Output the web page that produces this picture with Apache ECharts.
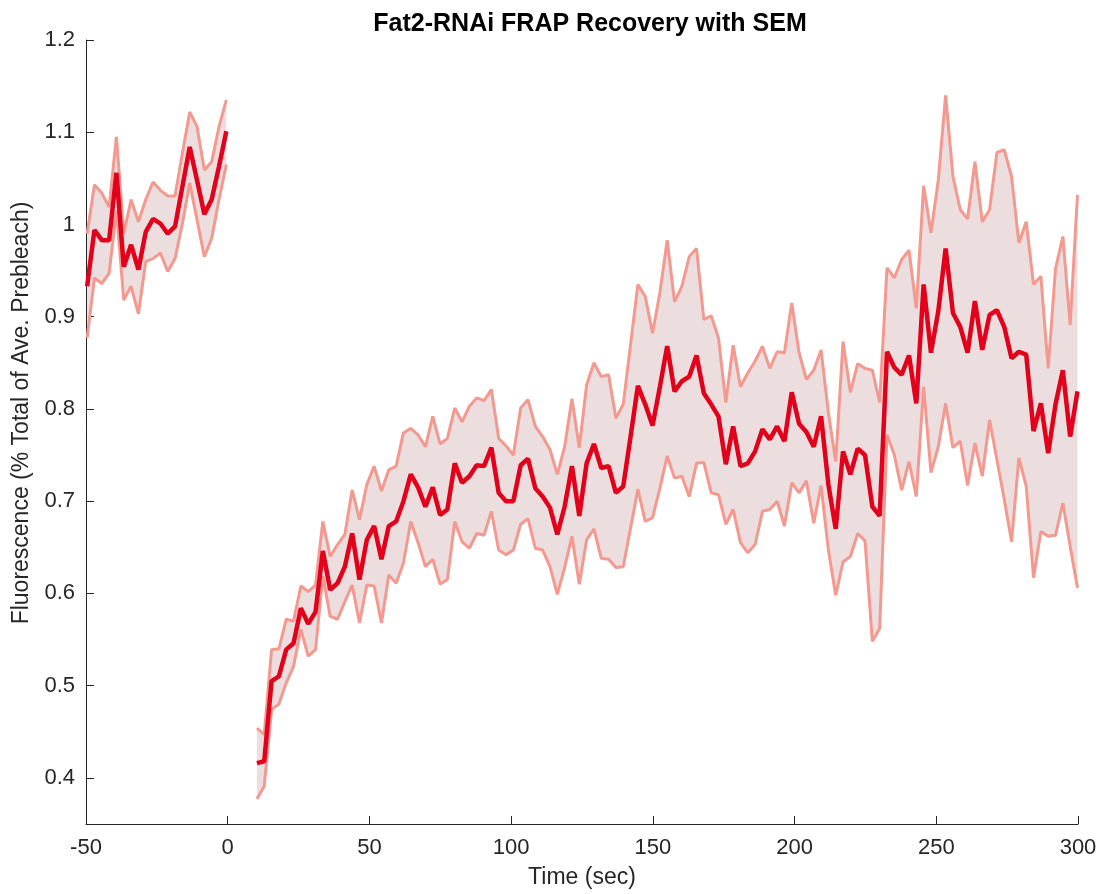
<!DOCTYPE html>
<html>
<head>
<meta charset="utf-8">
<title>Fat2-RNAi FRAP Recovery with SEM</title>
<script src="https://cdn.jsdelivr.net/npm/echarts@6/dist/echarts.min.js"></script>
<style>
html, body { margin: 0; padding: 0; background: #fff; }
#chart { width: 1113px; height: 894px; }
</style>
</head>
<body>
<div id="chart"></div>
<script>
// sampling: one frame every ~2.585 s, bleach at t = 0
var STEP = 2.585;
var PRE_START = -49.6;
var POST_START = 10.3;

// prebleach (mean, mean+SEM, mean-SEM)
var preMean = [0.933, 0.994, 0.983, 0.983, 1.056, 0.954, 0.978, 0.951, 0.992, 1.006,
  1.001, 0.990, 0.998, 1.041, 1.084, 1.048, 1.011, 1.027, 1.063, 1.101];
var preUpper = [0.990, 1.043, 1.034, 1.019, 1.095, 0.990, 1.027, 1.003, 1.027, 1.046,
  1.037, 1.031, 1.031, 1.077, 1.122, 1.106, 1.059, 1.068, 1.106, 1.135];
var preLower = [0.877, 0.942, 0.936, 0.947, 1.015, 0.918, 0.933, 0.903, 0.960, 0.963,
  0.969, 0.949, 0.963, 1.001, 1.045, 1.005, 0.965, 0.985, 1.027, 1.065];

// recovery after bleach
var postMean = [0.416, 0.418, 0.505, 0.510, 0.539, 0.546, 0.584, 0.567, 0.580, 0.646,
  0.604, 0.611, 0.629, 0.665, 0.615, 0.658, 0.673, 0.637, 0.673, 0.678,
  0.700, 0.729, 0.715, 0.694, 0.715, 0.685, 0.691, 0.741, 0.720, 0.727,
  0.739, 0.738, 0.758, 0.709, 0.700, 0.700, 0.739, 0.746, 0.714, 0.705,
  0.693, 0.664, 0.694, 0.738, 0.684, 0.741, 0.762, 0.736, 0.738, 0.709,
  0.716, 0.770, 0.825, 0.805, 0.782, 0.824, 0.868, 0.819, 0.830, 0.835,
  0.858, 0.817, 0.805, 0.792, 0.740, 0.781, 0.738, 0.741, 0.754, 0.778,
  0.767, 0.781, 0.765, 0.818, 0.784, 0.775, 0.759, 0.792, 0.718, 0.670,
  0.754, 0.729, 0.757, 0.750, 0.694, 0.684, 0.862, 0.845, 0.837, 0.858,
  0.806, 0.935, 0.861, 0.906, 0.974, 0.904, 0.889, 0.861, 0.917, 0.864,
  0.902, 0.907, 0.889, 0.855, 0.862, 0.859, 0.776, 0.806, 0.752, 0.805,
  0.842, 0.770, 0.819];
var postUpper = [0.454, 0.447, 0.539, 0.540, 0.572, 0.570, 0.608, 0.602, 0.609, 0.678,
  0.640, 0.653, 0.664, 0.712, 0.680, 0.718, 0.738, 0.711, 0.734, 0.738,
  0.774, 0.779, 0.772, 0.759, 0.792, 0.762, 0.768, 0.801, 0.786, 0.803,
  0.812, 0.809, 0.821, 0.768, 0.760, 0.750, 0.801, 0.810, 0.781, 0.770,
  0.756, 0.729, 0.759, 0.811, 0.758, 0.826, 0.850, 0.835, 0.837, 0.790,
  0.805, 0.870, 0.935, 0.922, 0.882, 0.926, 0.983, 0.916, 0.933, 0.965,
  0.974, 0.897, 0.901, 0.877, 0.807, 0.869, 0.824, 0.839, 0.852, 0.868,
  0.844, 0.862, 0.861, 0.915, 0.861, 0.832, 0.842, 0.864, 0.796, 0.743,
  0.873, 0.818, 0.849, 0.844, 0.842, 0.807, 0.953, 0.942, 0.962, 0.972,
  0.909, 1.042, 0.991, 1.048, 1.140, 1.052, 1.016, 1.006, 1.068, 1.003,
  1.016, 1.078, 1.081, 1.052, 0.980, 1.003, 0.935, 0.944, 0.844, 0.952,
  0.987, 0.891, 1.032];
var postLower = [0.377, 0.391, 0.474, 0.480, 0.503, 0.521, 0.561, 0.532, 0.539, 0.619,
  0.575, 0.572, 0.591, 0.609, 0.568, 0.609, 0.608, 0.568, 0.620, 0.611,
  0.633, 0.678, 0.655, 0.629, 0.637, 0.610, 0.615, 0.678, 0.656, 0.649,
  0.665, 0.663, 0.689, 0.647, 0.642, 0.647, 0.675, 0.681, 0.649, 0.647,
  0.629, 0.599, 0.628, 0.662, 0.610, 0.658, 0.670, 0.638, 0.637, 0.628,
  0.629, 0.671, 0.713, 0.678, 0.682, 0.714, 0.749, 0.725, 0.727, 0.705,
  0.741, 0.742, 0.709, 0.707, 0.675, 0.691, 0.655, 0.644, 0.653, 0.689,
  0.691, 0.700, 0.673, 0.720, 0.709, 0.722, 0.676, 0.717, 0.647, 0.598,
  0.634, 0.640, 0.665, 0.657, 0.548, 0.562, 0.772, 0.750, 0.712, 0.743,
  0.705, 0.824, 0.731, 0.759, 0.806, 0.758, 0.765, 0.717, 0.763, 0.727,
  0.788, 0.745, 0.702, 0.656, 0.747, 0.716, 0.617, 0.667, 0.662, 0.663,
  0.698, 0.651, 0.606];

var xTicks = [-50, 0, 50, 100, 150, 200, 250, 300];
var yTicks = [0.4, 0.5, 0.6, 0.7, 0.8, 0.9, 1, 1.1, 1.2];

var preTime = preMean.map(function (v, i) { return PRE_START + i * STEP; });
var postTime = postMean.map(function (v, i) { return POST_START + i * STEP; });

var segments = [
  { time: preTime, mean: preMean, upper: preUpper, lower: preLower },
  { time: postTime, mean: postMean, upper: postUpper, lower: postLower }
];

var FONT = '"Liberation Sans", Arial, Helvetica, sans-serif';
var AXIS_COLOR = '#262626';
var MEAN_COLOR = '#e2001b';
var EDGE_COLOR = '#f4998f';
var FILL_COLOR = '#ecdede';

function pairs(t, v) {
  return t.map(function (x, i) { return [x, v[i]]; });
}

var series = [];

// shaded SEM band, polygon built from the axis scales
series.push({
  type: 'custom',
  name: 'band',
  silent: true,
  z: 1,
  data: segments.map(function (s) { return [s.time[0], s.mean[0]]; }),
  renderItem: function (params, api) {
    var s = segments[params.dataIndex];
    var pts = [];
    for (var i = 0; i < s.time.length; i++) pts.push(api.coord([s.time[i], s.upper[i]]));
    for (var j = s.time.length - 1; j >= 0; j--) pts.push(api.coord([s.time[j], s.lower[j]]));
    return { type: 'polygon', shape: { points: pts }, style: { fill: FILL_COLOR } };
  }
});

segments.forEach(function (s) {
  [s.upper, s.lower].forEach(function (edge) {
    series.push({
      type: 'line', data: pairs(s.time, edge), showSymbol: false, silent: true, z: 2,
      lineStyle: { color: EDGE_COLOR, width: 3 }
    });
  });
  series.push({
    type: 'line', data: pairs(s.time, s.mean), showSymbol: false, silent: true, z: 3,
    lineStyle: { color: MEAN_COLOR, width: 4.5 }
  });
});

var chart = echarts.init(document.getElementById('chart'));
var option = {
  animation: false,
  backgroundColor: '#fff',
  title: {
    text: 'Fat2-RNAi FRAP Recovery with SEM',
    left: 585,
    top: 7,
    textAlign: 'center',
    textStyle: { fontFamily: FONT, fontSize: 25, fontWeight: 'bold', color: '#000' }
  },
  grid: { left: 86, right: 35, top: 40, bottom: 69 },
  xAxis: {
    type: 'value',
    min: -50,
    max: 300,
    interval: 50,
    name: 'Time (sec)',
    nameLocation: 'middle',
    nameGap: 42,
    nameTextStyle: { fontFamily: FONT, fontSize: 23, color: AXIS_COLOR },
    axisLine: { show: true, onZero: false, lineStyle: { color: AXIS_COLOR, width: 1 } },
    axisTick: { show: true, inside: true, length: 8, lineStyle: { color: AXIS_COLOR } },
    axisLabel: {
      fontFamily: FONT, fontSize: 22, color: AXIS_COLOR, margin: 13,
      customValues: xTicks
    },
    splitLine: { show: false }
  },
  yAxis: {
    type: 'value',
    min: 0.35,
    max: 1.2,
    name: 'Fluorescence (% Total of Ave. Prebleach)',
    nameLocation: 'middle',
    nameGap: 50,
    nameTextStyle: { fontFamily: FONT, fontSize: 23, color: AXIS_COLOR, padding: [0, 0, 0, 38] },
    axisLine: { show: true, onZero: false, lineStyle: { color: AXIS_COLOR, width: 1 } },
    axisTick: { show: true, inside: true, length: 8, lineStyle: { color: AXIS_COLOR }, customValues: yTicks },
    axisLabel: {
      fontFamily: FONT, fontSize: 22, color: AXIS_COLOR, margin: 11,
      customValues: yTicks,
      formatter: function (v) { return String(Math.round(v * 10) / 10); }
    },
    splitLine: { show: false }
  },
  series: series
};
chart.setOption(option);
</script>
</body>
</html>
